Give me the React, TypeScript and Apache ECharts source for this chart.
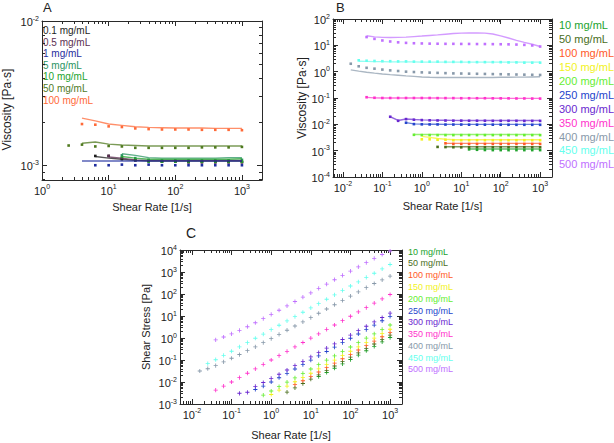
import React, { useEffect, useRef } from 'react';
import * as echarts from 'echarts';

// ---------------- Data ----------------
const RATES_A = [2.51, 3.98, 6.31, 10, 15.8, 25.1, 39.8, 63.1, 100, 158, 251, 398, 631, 1000];
const RATES_B = [0.0158, 0.0251, 0.0398, 0.0631, 0.1, 0.158, 0.251, 0.398, 0.631, 1, 1.58, 2.51, 3.98, 6.31, 10, 15.8, 25.1, 39.8, 63.1, 100, 158, 251, 398, 631, 1000];

const A_NAMES = ['0.1 mg/mL', '0.5 mg/mL', '1 mg/mL', '5 mg/mL', '10 mg/mL', '50 mg/mL', '100 mg/mL'];
const A_COLORS = ['#1e1e1e', '#5c2f52', '#1f2d9e', '#2a9462', '#22a32e', '#4f7a1f', '#ff6a38'];
const A_DOT_START = [2, 3, 2, 4, 4, 0, 1];
const A_LINE_START = [2, 3, 1, 4, 4, 1, 1];

// viscosity [Pa·s], panel A
const A_DOTS_01 = [0.00116, 0.00116, 0.0011, 0.00108, 0.00107, 0.00106, 0.00106, 0.00105, 0.00105, 0.00105, 0.00105, 0.00105];
const A_LINE_01 = [0.00115, 0.00112, 0.0011, 0.00108, 0.00107, 0.00107, 0.00107, 0.00107, 0.00107, 0.00107, 0.00107, 0.00107];
const A_DOTS_05 = [0.00116, 0.00112, 0.00108, 0.00107, 0.00106, 0.00106, 0.00105, 0.00105, 0.00105, 0.00105, 0.00105];
const A_LINE_05 = [0.00114, 0.00112, 0.00109, 0.00108, 0.00108, 0.00108, 0.00108, 0.00108, 0.00108, 0.00108, 0.00108];
const A_DOTS_1 = [0.001, 0.001, 0.00101, 0.001, 0.00101, 0.001, 0.001, 0.001, 0.001, 0.001, 0.001, 0.001];
const A_LINE_1 = [0.00107, 0.00107, 0.00107, 0.00107, 0.00107, 0.00107, 0.00107, 0.00107, 0.00107, 0.00107, 0.00107, 0.00107, 0.00107];
const A_DOTS_5 = [0.00117, 0.00112, 0.00109, 0.00108, 0.00108, 0.00108, 0.00108, 0.00108, 0.00108, 0.00109];
const A_LINE_5 = [0.0012, 0.00117, 0.00113, 0.00112, 0.00112, 0.00112, 0.00112, 0.00112, 0.00113, 0.00113];
const A_DOTS_10 = [0.00113, 0.00109, 0.00106, 0.00106, 0.00106, 0.00106, 0.00106, 0.00106, 0.00106, 0.00106];
const A_LINE_10 = [0.00115, 0.00112, 0.0011, 0.0011, 0.0011, 0.0011, 0.0011, 0.0011, 0.0011, 0.00111];
const A_DOTS_50 = [0.00137, 0.00139, 0.00135, 0.00136, 0.00135, 0.00132, 0.00132, 0.00132, 0.00132, 0.00132, 0.00133, 0.00133, 0.00133, 0.00134];
const A_LINE_50 = [0.00142, 0.00145, 0.0014, 0.00138, 0.00137, 0.00136, 0.00136, 0.00136, 0.00136, 0.00136, 0.00136, 0.00136, 0.00136];
const A_DOTS_100 = [0.00193, 0.00191, 0.00186, 0.00184, 0.0018, 0.00178, 0.00177, 0.00177, 0.00177, 0.00176, 0.00176, 0.00176, 0.00175];
const A_LINE_100 = [0.00212, 0.00203, 0.00193, 0.00189, 0.00185, 0.00183, 0.00182, 0.00181, 0.00181, 0.00181, 0.0018, 0.0018, 0.0018];

const A_DOTS = [A_DOTS_01, A_DOTS_05, A_DOTS_1, A_DOTS_5, A_DOTS_10, A_DOTS_50, A_DOTS_100];
const A_LINES = [A_LINE_01, A_LINE_05, A_LINE_1, A_LINE_5, A_LINE_10, A_LINE_50, A_LINE_100];

const B_NAMES = ['10 mg/mL', '50 mg/mL', '100 mg/mL', '150 mg/mL', '200 mg/mL', '250 mg/mL', '300 mg/mL', '350 mg/mL', '400 mg/mL', '450 mg/mL', '500 mg/mL'];
const B_COLORS = ['#22a32e', '#4a6e1c', '#ff5a28', '#f2f21c', '#66ee33', '#2444cc', '#6a28d0', '#ff33cc', '#8899aa', '#66ffee', '#c070ff'];
const B_DOT_START = [15, 11, 12, 9, 8, 7, 5, 2, 0, 1, 2];
const B_LINE_START = [15, 12, 12, 9, 8, 7, 5, 2, 0, 1, 2];

// viscosity [Pa·s], panel B
const B_DOTS_10 = [0.00112, 0.00108, 0.00106, 0.00105, 0.00105, 0.00105, 0.00105, 0.00105, 0.00105, 0.00105];
const B_LINE_10 = [0.00115, 0.00115, 0.00115, 0.00115, 0.00115, 0.00115, 0.00115, 0.00115, 0.00115, 0.00115];
const B_DOTS_50 = [0.00139, 0.00137, 0.00135, 0.00134, 0.00134, 0.00134, 0.00134, 0.00134, 0.00134, 0.00134, 0.00134, 0.00134, 0.00134, 0.00134];
const B_LINE_50 = [0.0014, 0.0014, 0.0014, 0.0014, 0.0014, 0.0014, 0.0014, 0.0014, 0.0014, 0.0014, 0.0014, 0.0014, 0.0014];
const B_DOTS_100 = [0.0019, 0.0018, 0.0018, 0.0018, 0.0018, 0.0018, 0.0018, 0.0018, 0.0018, 0.0018, 0.0018, 0.0018, 0.0018];
const B_LINE_100 = [0.0019, 0.0019, 0.0019, 0.0019, 0.0019, 0.0019, 0.0019, 0.0019, 0.0019, 0.0019, 0.0019, 0.0019, 0.0019];
const B_DOTS_150 = [0.0027, 0.0027, 0.0026, 0.0026, 0.0025, 0.0025, 0.0025, 0.0025, 0.0025, 0.0025, 0.0025, 0.0025, 0.0025, 0.0025, 0.0025, 0.0025];
const B_LINE_150 = [0.0035, 0.0032, 0.0029, 0.0027, 0.0026, 0.0026, 0.0026, 0.0026, 0.0026, 0.0026, 0.0026, 0.0026, 0.0026, 0.0026, 0.0026, 0.0026];
const B_DOTS_200 = [0.004, 0.0039, 0.0039, 0.0039, 0.0039, 0.0039, 0.0039, 0.0039, 0.0039, 0.0039, 0.0039, 0.0039, 0.0039, 0.0039, 0.0039, 0.0039, 0.0039];
const B_LINE_200 = [0.0041, 0.0041, 0.0041, 0.0041, 0.0041, 0.0041, 0.0041, 0.0041, 0.0041, 0.0041, 0.0041, 0.0041, 0.0041, 0.0041, 0.0041, 0.0041, 0.0041];
const B_DOTS_250 = [0.0115, 0.0102, 0.01, 0.0099, 0.0099, 0.0098, 0.0098, 0.0098, 0.0097, 0.0097, 0.0097, 0.0097, 0.0097, 0.0096, 0.0096, 0.0096, 0.0096, 0.0096];
const B_LINE_250 = [0.0116, 0.0104, 0.0102, 0.0101, 0.0101, 0.01, 0.01, 0.01, 0.01, 0.01, 0.01, 0.01, 0.01, 0.01, 0.01, 0.01, 0.01, 0.01];
const B_DOTS_300 = [0.0194, 0.0136, 0.0158, 0.015, 0.0145, 0.0142, 0.014, 0.0139, 0.0138, 0.0138, 0.0137, 0.0137, 0.0137, 0.0136, 0.0136, 0.0136, 0.0136, 0.0135, 0.0135, 0.0135];
const B_LINE_300 = [0.0194, 0.014, 0.016, 0.0152, 0.0148, 0.0145, 0.0143, 0.0142, 0.0141, 0.014, 0.014, 0.014, 0.0139, 0.0139, 0.0139, 0.0139, 0.0139, 0.0139, 0.0139, 0.0139];
const B_DOTS_350 = [0.107, 0.102, 0.1, 0.1, 0.1, 0.1, 0.1, 0.1, 0.1, 0.099, 0.099, 0.099, 0.098, 0.098, 0.098, 0.098, 0.097, 0.097, 0.097, 0.096, 0.096, 0.095, 0.095];
const B_LINE_350 = [0.106, 0.101, 0.1, 0.1, 0.1, 0.1, 0.1, 0.1, 0.1, 0.1, 0.099, 0.099, 0.099, 0.099, 0.098, 0.098, 0.098, 0.098, 0.097, 0.097, 0.097, 0.097, 0.097];
const B_DOTS_400 = [2.0, 1.6, 1.4, 1.3, 1.2, 1.12, 1.06, 1.0, 0.97, 0.94, 0.92, 0.9, 0.88, 0.86, 0.85, 0.84, 0.83, 0.82, 0.81, 0.8, 0.79, 0.78, 0.77, 0.76, 0.75];
const B_LINE_400 = [1.17, 1.05, 0.95, 0.88, 0.82, 0.77, 0.73, 0.69, 0.66, 0.63, 0.61, 0.6, 0.6, 0.6, 0.6, 0.6, 0.6, 0.6, 0.6, 0.61, 0.61, 0.62, 0.62, 0.63, 0.64];
const B_DOTS_450 = [2.7, 2.6, 2.55, 2.5, 2.5, 2.45, 2.45, 2.4, 2.4, 2.4, 2.4, 2.35, 2.35, 2.35, 2.3, 2.3, 2.3, 2.3, 2.3, 2.25, 2.25, 2.2, 2.2, 2.2];
const B_LINE_450 = [2.5, 2.45, 2.4, 2.4, 2.35, 2.35, 2.35, 2.35, 2.3, 2.3, 2.3, 2.3, 2.3, 2.3, 2.3, 2.3, 2.3, 2.3, 2.3, 2.3, 2.3, 2.3, 2.3, 2.3];
const B_DOTS_500 = [20.6, 17.6, 15.3, 14.0, 13.0, 12.4, 12.0, 11.8, 11.6, 11.5, 11.4, 11.4, 11.3, 11.3, 11.2, 11.2, 11.1, 11.0, 10.9, 10.7, 10.4, 9.9, 9.0];
const B_LINE_500 = [23, 21, 20, 19.8, 20, 20.5, 21.5, 22.5, 23.7, 25, 26.5, 28, 29, 29.5, 29.5, 29, 27, 23, 19, 15.5, 13, 11, 9];

const B_DOTS = [B_DOTS_10, B_DOTS_50, B_DOTS_100, B_DOTS_150, B_DOTS_200, B_DOTS_250, B_DOTS_300, B_DOTS_350, B_DOTS_400, B_DOTS_450, B_DOTS_500];
const B_LINES = [B_LINE_10, B_LINE_50, B_LINE_100, B_LINE_150, B_LINE_200, B_LINE_250, B_LINE_300, B_LINE_350, B_LINE_400, B_LINE_450, B_LINE_500];

// shear stress [Pa], panel C (same shear rates / start points as panel B dots)
const C_10 = [0.0177, 0.0271, 0.0422, 0.0663, 0.105, 0.166, 0.264, 0.418, 0.663, 1.05];
const C_50 = [0.00349, 0.00545, 0.00852, 0.0134, 0.0212, 0.0336, 0.0533, 0.0846, 0.134, 0.212, 0.336, 0.533, 0.846, 1.34];
const C_100 = [0.00756, 0.0114, 0.018, 0.0284, 0.0452, 0.0716, 0.114, 0.18, 0.284, 0.452, 0.716, 1.14, 1.8];
const C_150 = [0.0027, 0.00427, 0.00653, 0.0103, 0.0158, 0.025, 0.0395, 0.0628, 0.0995, 0.158, 0.25, 0.395, 0.628, 0.995, 1.58, 2.5];
const C_200 = [0.00252, 0.0039, 0.00616, 0.00979, 0.0155, 0.0246, 0.039, 0.0616, 0.0979, 0.155, 0.246, 0.39, 0.616, 0.979, 1.55, 2.46, 3.9];
const C_250 = [0.00458, 0.00644, 0.01, 0.0156, 0.0248, 0.039, 0.0618, 0.098, 0.153, 0.243, 0.386, 0.612, 0.97, 1.52, 2.41, 3.82, 6.06, 9.6];
const C_300 = [0.00307, 0.00341, 0.00629, 0.00947, 0.0145, 0.0224, 0.0351, 0.0553, 0.0871, 0.138, 0.216, 0.344, 0.545, 0.858, 1.36, 2.15, 3.41, 5.37, 8.52, 13.5];
const C_350 = [0.00426, 0.00644, 0.01, 0.0158, 0.0251, 0.0398, 0.0631, 0.1, 0.158, 0.248, 0.394, 0.625, 0.98, 1.55, 2.46, 3.9, 6.12, 9.7, 15.3, 24.1, 38.2, 59.9, 95];
const C_400 = [0.0316, 0.0402, 0.0557, 0.082, 0.12, 0.177, 0.266, 0.398, 0.612, 0.94, 1.45, 2.26, 3.5, 5.43, 8.5, 13.3, 20.8, 32.6, 51.1, 80, 125, 196, 300, 440, 650];
const C_450 = [0.068, 0.103, 0.161, 0.25, 0.395, 0.615, 0.975, 1.51, 2.4, 3.79, 6.02, 9.35, 14.8, 23.5, 36.3, 57.7, 91.5, 145, 230, 356, 565, 876, 1388, 2200];
const C_500 = [0.82, 1.11, 1.53, 2.21, 3.26, 4.94, 7.57, 11.8, 18.3, 28.9, 45.4, 71.9, 113, 179, 281, 446, 700, 1100, 1722, 2686, 4139, 6247, 9000];

const C_POINTS = [C_10, C_50, C_100, C_150, C_200, C_250, C_300, C_350, C_400, C_450, C_500];

// ---------------- Styling helpers ----------------
const FONT = "'Liberation Sans', Arial, sans-serif";
const AXIS_COLOR = '#2a2a2a';
const TEXT_COLOR = '#222';

function pairs(rates: number[], start: number, vals: number[]) {
  return vals.map((v, i) => [rates[start + i], v]);
}

function powLabel(v: number) {
  const e = Math.log10(v);
  if (Math.abs(e - Math.round(e)) > 1e-6) return '';
  return '{b|10}{e|' + Math.round(e) + '}';
}

// minor tick positions (2..9 x 10^n) of a log axis between min and max
function minorTickValues(min: number, max: number) {
  const out: number[] = [];
  const e0 = Math.floor(Math.log10(min));
  const e1 = Math.ceil(Math.log10(max));
  for (let e = e0; e <= e1; e++) {
    for (let k = 2; k <= 9; k++) {
      const v = k * Math.pow(10, e);
      if (v > min && v < max) out.push(v);
    }
  }
  return out;
}

const labelRich = {
  b: { fontSize: 11, fontFamily: FONT, color: TEXT_COLOR, verticalAlign: 'bottom' },
  e: { fontSize: 7, fontFamily: FONT, color: TEXT_COLOR, verticalAlign: 'bottom', padding: [0, 0, 6, 0] },
};

function logAxis(gridIndex: number, min: number, max: number, position: string, primary: boolean, extra: any = {}) {
  return {
    type: 'log',
    logBase: 10,
    gridIndex,
    min,
    max,
    position,
    axisLine: { show: true, onZero: false, lineStyle: { color: AXIS_COLOR, width: 1 } },
    axisTick: { show: true, inside: true, length: 5, lineStyle: { color: AXIS_COLOR, width: 1 } },
    splitLine: { show: false },
    axisLabel: primary
      ? { show: true, formatter: powLabel, rich: labelRich, margin: 3, hideOverlap: false, showMinLabel: true, showMaxLabel: true }
      : { show: false },
    ...extra,
  };
}

function minorAxis(gridIndex: number, min: number, max: number, position: string) {
  return {
    type: 'log',
    logBase: 10,
    gridIndex,
    min,
    max,
    position,
    axisLine: { show: false, onZero: false },
    axisTick: { show: true, inside: true, length: 3, customValues: minorTickValues(min, max), lineStyle: { color: AXIS_COLOR, width: 1 } },
    splitLine: { show: false },
    axisLabel: { show: false },
    silent: true,
  };
}

const nameStyle = { fontSize: 11, fontFamily: FONT, color: TEXT_COLOR };

function legendTexts(x: number, y0: number, dy: number, names: string[], colors: string[], size: number) {
  return names.map((n, i) => ({
    type: 'text',
    x,
    y: y0 + i * dy,
    style: { text: n, fill: colors[i], fontSize: size, fontFamily: FONT, verticalAlign: 'middle', textVerticalAlign: 'middle' },
  }));
}

function buildOption() {
  const series: any[] = [];
  // Panel A
  A_NAMES.forEach((n, i) => {
    series.push({
      type: 'line', name: n, xAxisIndex: 0, yAxisIndex: 0,
      data: pairs(RATES_A, A_LINE_START[i], A_LINES[i]),
      showSymbol: false, symbol: 'none',
      lineStyle: { color: A_COLORS[i], width: 1.4, opacity: 0.75 }, itemStyle: { color: A_COLORS[i] },
    });
  });
  A_NAMES.forEach((n, i) => {
    series.push({
      type: 'scatter', name: n, xAxisIndex: 0, yAxisIndex: 0,
      data: pairs(RATES_A, A_DOT_START[i], A_DOTS[i]),
      symbol: 'rect', symbolSize: 2.6, itemStyle: { color: A_COLORS[i], opacity: 1 },
    });
  });
  // Panel B
  B_NAMES.forEach((n, i) => {
    series.push({
      type: 'line', name: n, xAxisIndex: 4, yAxisIndex: 4,
      data: pairs(RATES_B, B_LINE_START[i], B_LINES[i]),
      showSymbol: false, symbol: 'none',
      lineStyle: { color: B_COLORS[i], width: 1.4, opacity: 0.7 }, itemStyle: { color: B_COLORS[i] },
    });
  });
  B_NAMES.forEach((n, i) => {
    series.push({
      type: 'scatter', name: n, xAxisIndex: 4, yAxisIndex: 4,
      data: pairs(RATES_B, B_DOT_START[i], B_DOTS[i]),
      symbol: 'rect', symbolSize: 2.6, itemStyle: { color: B_COLORS[i], opacity: 1 },
    });
  });
  // Panel C
  B_NAMES.forEach((n, i) => {
    series.push({
      type: 'scatter', name: n, xAxisIndex: 8, yAxisIndex: 8,
      data: pairs(RATES_B, B_DOT_START[i], C_POINTS[i]),
      symbol: 'path://M2,0H3V2H5V3H3V5H2V3H0V2H2Z', symbolSize: 4.2, itemStyle: { color: B_COLORS[i], opacity: 1 },
    });
  });

  const grids = [
    { left: 40, top: 21, width: 222, height: 159 },
    { left: 333, top: 19, width: 219, height: 158 },
    { left: 180, top: 250, width: 222, height: 154 },
  ];

  const X_RANGES = [[1, 2000], [0.0056, 2000], [0.005, 2000]];
  const Y_RANGES = [[0.00079, 0.01], [0.0001, 100], [0.001, 10000]];
  const X_GAPS = [21, 23, 25];
  const Y_NAMES = [
    { name: 'Viscosity [Pa·s]', nameGap: 29, nameTextStyle: { ...nameStyle, fontSize: 12, padding: [0, 18, 0, 0] } },
    { name: 'Viscosity [Pa·s]', nameGap: 25, nameTextStyle: { ...nameStyle, fontSize: 12 } },
    { name: 'Shear Stress [Pa]', nameGap: 29, nameTextStyle: nameStyle },
  ];

  const xAxis: any[] = [];
  const yAxis: any[] = [];
  for (let g = 0; g < 3; g++) {
    const [x0, x1] = X_RANGES[g];
    const [y0, y1] = Y_RANGES[g];
    xAxis.push(
      logAxis(g, x0, x1, 'bottom', true, { name: 'Shear Rate [1/s]', nameLocation: 'middle', nameGap: X_GAPS[g], nameTextStyle: nameStyle }),
      logAxis(g, x0, x1, 'top', false),
      minorAxis(g, x0, x1, 'bottom'),
      minorAxis(g, x0, x1, 'top'),
    );
    yAxis.push(
      logAxis(g, y0, y1, 'left', true, { nameLocation: 'middle', ...Y_NAMES[g] }),
      logAxis(g, y0, y1, 'right', false),
      minorAxis(g, y0, y1, 'left'),
      minorAxis(g, y0, y1, 'right'),
    );
  }

  const graphic = [
    { type: 'text', x: 43, y: 1, style: { text: 'A', fill: TEXT_COLOR, fontSize: 13, fontFamily: FONT } },
    { type: 'text', x: 336, y: 1, style: { text: 'B', fill: TEXT_COLOR, fontSize: 13, fontFamily: FONT } },
    { type: 'text', x: 186, y: 226, style: { text: 'C', fill: TEXT_COLOR, fontSize: 14, fontFamily: FONT } },
    ...legendTexts(43, 30.7, 11.55, A_NAMES, A_COLORS, 10),
    ...legendTexts(559, 25.3, 13.9, B_NAMES, B_COLORS, 11),
    ...legendTexts(408, 251.7, 11.76, B_NAMES, B_COLORS, 9),
  ];

  return {
    animation: false,
    backgroundColor: '#ffffff',
    textStyle: { fontFamily: FONT },
    grid: grids,
    xAxis,
    yAxis,
    series,
    graphic,
  };
}

export default function App() {
  const ref = useRef<HTMLDivElement>(null);
  useEffect(() => {
    if (!ref.current) return;
    const chart = echarts.init(ref.current, null, { renderer: 'svg' });
    chart.setOption(buildOption() as any);
    return () => chart.dispose();
  }, []);
  return <div ref={ref} style={{ position: 'absolute', left: 0, top: 0, width: 614, height: 443 }} />;
}
